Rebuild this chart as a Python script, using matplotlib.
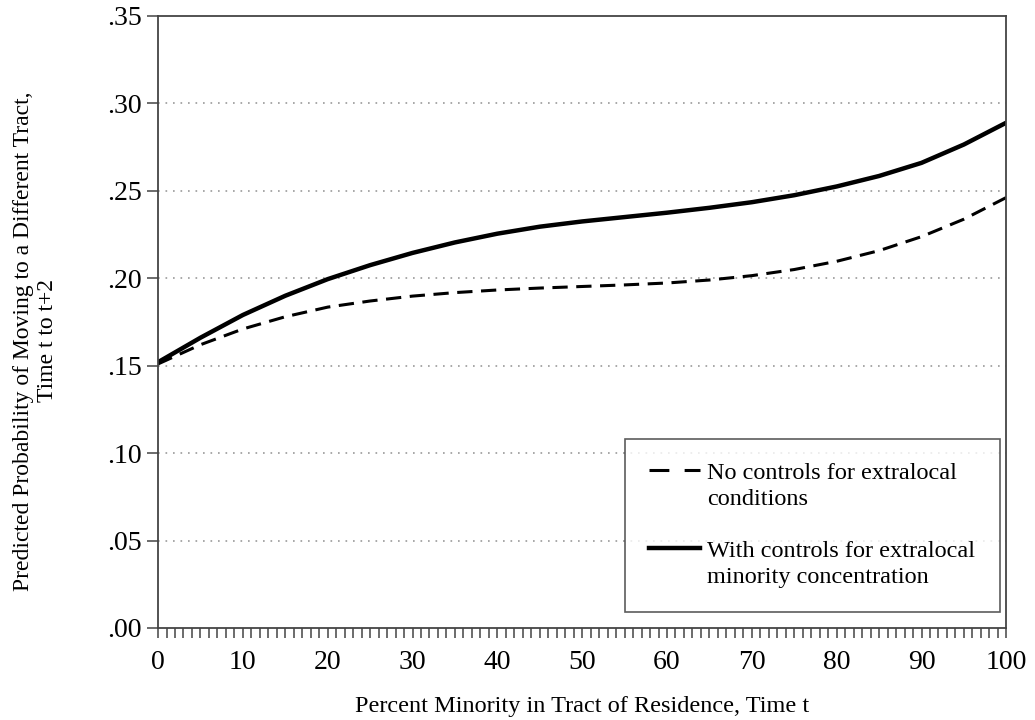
import numpy as np
import matplotlib
matplotlib.use('Agg')
import matplotlib.pyplot as plt
from matplotlib.ticker import MultipleLocator, FuncFormatter

plt.rcParams['font.family'] = ['Liberation Serif', 'DejaVu Serif']

pct_minority = [0, 5, 10, 15, 20, 25, 30, 35, 40, 45, 50,
                55, 60, 65, 70, 75, 80, 85, 90, 95, 100]
no_controls = [.151, .162, .171, .178, .1835, .187, .1898, .1918, .1933, .1944, .1953,
               .1962, .1973, .199, .2015, .205, .2097, .2158, .2238, .2338, .2462]
with_controls = [.152, .166, .179, .190, .1995, .2075, .2145, .2205, .2255, .2295, .2325,
                 .235, .2375, .2403, .2435, .2475, .2525, .2585, .266, .2765, .289]

label_no = 'No controls for extralocal\nconditions'
label_with = 'With controls for extralocal\nminority concentration'

fig = plt.figure(figsize=(10.35, 7.2), dpi=100)
ax = fig.add_axes([0.1527, 0.1278, 0.8196, 0.850])

ax.plot(pct_minority, no_controls, color='black', lw=2.2,
        linestyle=(0, (5, 2.8)), label=label_no)
ax.plot(pct_minority, with_controls, color='black', lw=3.2,
        solid_joinstyle='round', label=label_with)

ax.set_xlim(0, 100)
ax.set_ylim(0, 0.35)
ax.xaxis.set_major_locator(MultipleLocator(10))
ax.xaxis.set_minor_locator(MultipleLocator(1))
ax.yaxis.set_major_locator(MultipleLocator(0.05))
ax.yaxis.set_major_formatter(FuncFormatter(lambda v, p: ('%.2f' % v)[1:]))

for y in np.arange(0.05, 0.31, 0.05):
    ax.axhline(y, color='#9a9a9a', lw=1.2, linestyle=(0, (1, 3.5)), zorder=0)

for s in ax.spines.values():
    s.set_color('#444444')
    s.set_linewidth(1.3)

ax.tick_params(axis='both', which='both', direction='out', color='#444444',
               width=1.1, labelsize=20)
ax.tick_params(axis='x', which='major', length=7, pad=9)
ax.tick_params(axis='x', which='minor', length=7)
ax.tick_params(axis='y', which='major', length=8, pad=4)

ax.set_xlabel('Percent Minority in Tract of Residence, Time t', fontsize=17.5, labelpad=15)
ax.set_ylabel('Predicted Probability of Moving to a Different Tract,\nTime t to t+2',
              fontsize=17, labelpad=35)
ax.yaxis.label.set_y(0.469)

leg = ax.legend(loc='lower right', bbox_to_anchor=(0.992, 0.026), fontsize=17.5,
                frameon=True, fancybox=False, edgecolor='#333333',
                handlelength=2.1, handletextpad=0.3, labelspacing=1.25,
                borderpad=1.0, borderaxespad=0)
leg.get_frame().set_linewidth(1.2)
for t in leg.get_texts():
    t.set_linespacing(1.32)
# keep each legend key level with the first line of its label
for ln in leg.get_lines():
    ln.set_ydata(np.asarray(ln.get_ydata()) + 11.5)
leg.get_lines()[0].set_linestyle((0, (6.5, 5)))

fig.savefig('out.png', dpi=100)
